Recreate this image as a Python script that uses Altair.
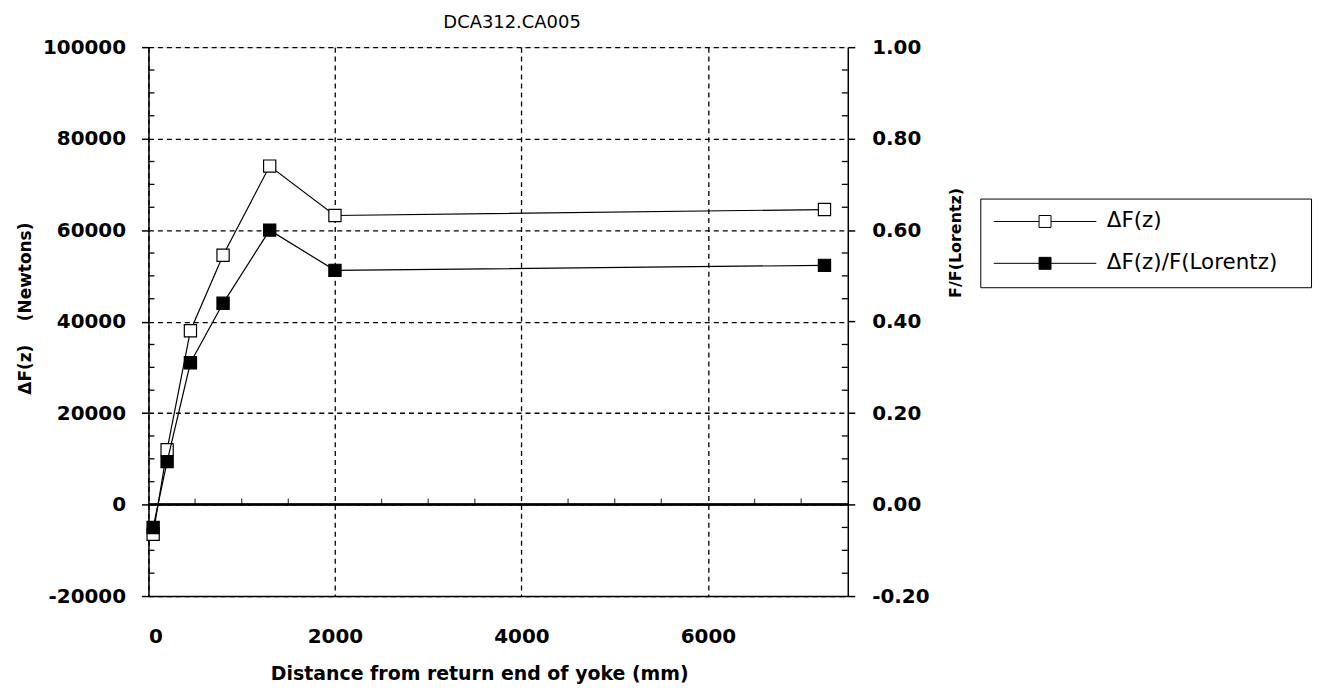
import altair as alt
import pandas as pd

# ---- data ----
x_mm = [50, 200, 450, 800, 1300, 2000, 7250]
delta_f = [-6500, 12000, 38000, 54500, 74000, 63200, 64500]
ratio = [-0.05, 0.094, 0.31, 0.44, 0.60, 0.512, 0.523]
series_names = ["ΔF(z)", "ΔF(z)/F(Lorentz)"]

# ---- ticks ----
x_ticks = [0, 2000, 4000, 6000]
x_minor = [500, 1000, 1500, 2500, 3000, 3500, 4500, 5000, 5500, 6500, 7000]
left_ticks = [-20000, 0, 20000, 40000, 60000, 80000, 100000]
left_minor = [-15000, -10000, -5000, 5000, 10000, 15000, 25000, 30000, 35000,
              45000, 50000, 55000, 65000, 70000, 75000, 85000, 90000, 95000]
right_ticks = [-0.2, 0.0, 0.2, 0.4, 0.6, 0.8, 1.0]
right_minor = [-0.15, -0.10, -0.05, 0.05, 0.10, 0.15, 0.25, 0.30, 0.35,
               0.45, 0.50, 0.55, 0.65, 0.70, 0.75, 0.85, 0.90, 0.95]

W, H = 702, 551
FONT = "DejaVu Sans"
DASH = [5, 4]
NB = "\u00a0"

df_a = pd.DataFrame({"x": x_mm, "y": delta_f, "series": series_names[0]})
df_b = pd.DataFrame({"x": x_mm, "y": ratio, "series": series_names[1]})
df_lminor = pd.DataFrame({"y": left_minor})
df_rminor = pd.DataFrame({"y": right_minor})
df_xminor = pd.DataFrame({"x": x_minor})

x_scale = alt.Scale(domain=[0, 7500], nice=False, zero=False)
yl_scale = alt.Scale(domain=[-20000, 100000], nice=False, zero=False)
yr_scale = alt.Scale(domain=[-0.2, 1.0], nice=False, zero=False)

x_axis = alt.Axis(
    values=x_ticks, title="Distance from return end of yoke (mm)", format="d",
    grid=True, gridDash=DASH, gridColor="black", gridWidth=1.3, gridOpacity=1,
    ticks=False, domain=True, domainColor="black", domainWidth=1.5,
    labelFont=FONT, labelFontSize=20, labelFontWeight="bold", labelColor="black",
    labelPadding=31, titleFont=FONT, titleFontSize=19, titleFontWeight="bold",
    titleColor="black", titlePadding=18, titleX=332,
)

yl_axis = alt.Axis(
    values=left_ticks, title="ΔF(z)" + NB * 4 + "(Newtons)",
    labelExpr="replace(format(datum.value, 'd'), '\u2212', '-')",
    grid=True, gridDash=DASH, gridColor="black", gridWidth=1.3, gridOpacity=1,
    tickSize=7, tickColor="black", tickWidth=1.5,
    domain=True, domainColor="black", domainWidth=1.5,
    labelFont=FONT, labelFontSize=20, labelFontWeight="bold", labelColor="black",
    labelPadding=16, titleFont=FONT, titleFontSize=17, titleFontWeight="bold",
    titleColor="black", titlePadding=8, titleY=262,
)

yr_axis = alt.Axis(
    orient="right", values=right_ticks, title="F/F(Lorentz)",
    labelExpr="replace(format(datum.value, '.2f'), '\u2212', '-')",
    grid=False, tickSize=7, tickColor="black", tickWidth=1.5,
    domain=True, domainColor="black", domainWidth=1.5,
    labelFont=FONT, labelFontSize=20, labelFontWeight="bold", labelColor="black",
    labelPadding=17, titleFont=FONT, titleFontSize=16, titleFontWeight="bold",
    titleColor="black", titleAngle=270, titlePadding=34,
    titleY=196,
)

r = 0.1165
sym_path = (f"M-1,0H{-r}M{r},0H1M{-r},{-r}H{r}V{r}H{-r}Z")

fill_enc = alt.Fill(
    "series:N",
    scale=alt.Scale(domain=series_names, range=["white", "black"]),
    legend=alt.Legend(
        title=None, orient="none", legendX=835, legendY=152,
        symbolType=sym_path, symbolSize=10609, symbolStrokeColor="black",
        symbolStrokeWidth=1, symbolOpacity=1, clipHeight=20,
        labelFont=FONT, labelFontSize=21.5, labelColor="black", labelOffset=10,
        labelLimit=400,
        labelExpr="datum.label + '" + NB * 3 + "\u200b'",
        strokeColor="black", fillColor="white", padding=13,
        rowPadding=20, cornerRadius=0,
    ),
)

x_enc = alt.X("x:Q", scale=x_scale, axis=x_axis)

line_a = alt.Chart(df_a).mark_line(color="black", strokeWidth=1.2).encode(
    x=x_enc, y=alt.Y("y:Q", scale=yl_scale, axis=yl_axis))
pts_a = alt.Chart(df_a).mark_point(
    shape="square", size=150, filled=True, stroke="black", strokeWidth=1.2,
    opacity=1).encode(x="x:Q", y="y:Q", fill=fill_enc)
zero_rule = alt.Chart(df_a).mark_rule(color="black", strokeWidth=1.5).encode(
    y=alt.datum(0))
lminor = alt.Chart(df_lminor).mark_rule(color="black", strokeWidth=1.3).encode(
    y="y:Q", x=alt.value(0), x2=alt.value(6))
xminor = alt.Chart(df_xminor).mark_tick(
    color="black", orient="vertical", size=6, thickness=1.3, yOffset=-3).encode(
    x="x:Q", y=alt.datum(0))

group_a = alt.layer(line_a, zero_rule, lminor, xminor, pts_a)

line_b = alt.Chart(df_b).mark_line(color="black", strokeWidth=1.2).encode(
    x="x:Q", y=alt.Y("y:Q", scale=yr_scale, axis=yr_axis))
pts_b = alt.Chart(df_b).mark_point(
    shape="square", size=150, filled=True, stroke="black", strokeWidth=1.2,
    opacity=1).encode(x="x:Q", y="y:Q", fill=fill_enc)
rminor = alt.Chart(df_rminor).mark_rule(color="black", strokeWidth=1.3).encode(
    y="y:Q", x=alt.value(W - 6), x2=alt.value(W))

group_b = alt.layer(line_b, rminor, pts_b)

chart = alt.layer(group_a, group_b).resolve_scale(y="independent").properties(
    width=W, height=H,
    title=alt.TitleParams("DCA312.CA005", font=FONT, fontSize=18,
                          fontWeight="normal", color="black", offset=5,
                          anchor="middle", dx=14),
    padding={"left": 8, "top": 5, "right": 5, "bottom": 5},
).configure_view(stroke="black", strokeWidth=1.5).configure(background="white")

chart.save("out.html", embed_options={"renderer": "svg", "actions": False})
